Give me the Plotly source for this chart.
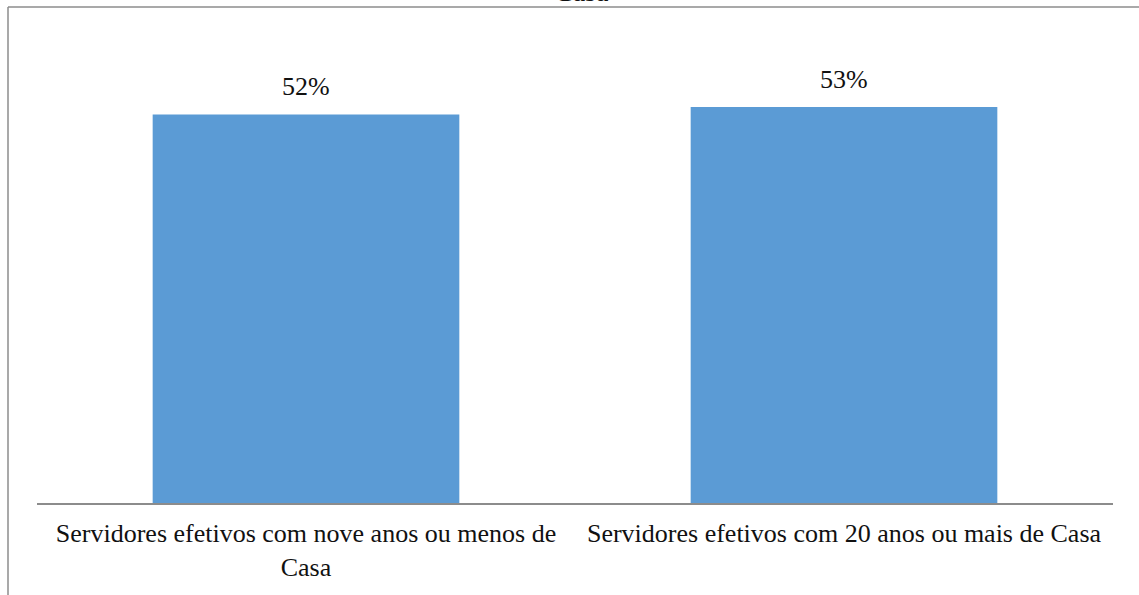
import plotly.graph_objects as go

# Data
categories = [
    "Servidores efetivos com nove anos ou menos de<br>Casa",
    "Servidores efetivos com 20 anos ou mais de Casa",
]
values = [52, 53]
value_labels = ["52%", "53%"]

W, H = 1139, 595
ML, MR, MT, MB = 37, 26, 30, 92
plot_w = W - ML - MR
plot_h = H - MT - MB

def px_x(p):
    return (p - ML) / plot_w

def px_y(p):
    return (H - MB - p) / plot_h

serif = "Liberation Serif"

fig = go.Figure(
    go.Bar(
        x=categories,
        y=values,
        marker=dict(color="#5B9BD5", line=dict(width=0)),
        width=0.57,
        hoverinfo="skip",
    )
)

# Value labels above bars
for c, v, t in zip(categories, values, value_labels):
    fig.add_annotation(
        x=c, y=v, text=t, showarrow=False,
        yanchor="bottom", yshift=11,
        font=dict(family=serif, size=26, color="#111111"),
    )

# Chart title, partly above the frame
fig.add_annotation(
    xref="paper", yref="paper", x=px_x(581), y=px_y(9),
    text="Casa", showarrow=False, yanchor="bottom",
    font=dict(family=serif, size=28, color="#111111"),
)

# Outer frame (left and top edges)
frame = dict(color="#8c8c8c", width=1.5)
fig.add_shape(type="line", xref="paper", yref="paper",
              x0=px_x(8), x1=px_x(8), y0=px_y(7), y1=px_y(600), line=frame)
fig.add_shape(type="line", xref="paper", yref="paper",
              x0=px_x(8), x1=px_x(1145), y0=px_y(7), y1=px_y(7), line=frame)

fig.update_layout(
    width=W, height=H,
    margin=dict(l=ML, r=MR, t=MT, b=MB),
    plot_bgcolor="white", paper_bgcolor="white",
    showlegend=False,
    bargap=0.43,
    xaxis=dict(
        showline=True, linecolor="#8c8c8c", linewidth=1.5,
        ticks="", showgrid=False, ticklabelstandoff=6,
        tickfont=dict(family=serif, size=26, color="#111111"),
    ),
    yaxis=dict(
        visible=False, range=[0, 63.3], showgrid=False,
    ),
)

fig.write_html("out.html")
